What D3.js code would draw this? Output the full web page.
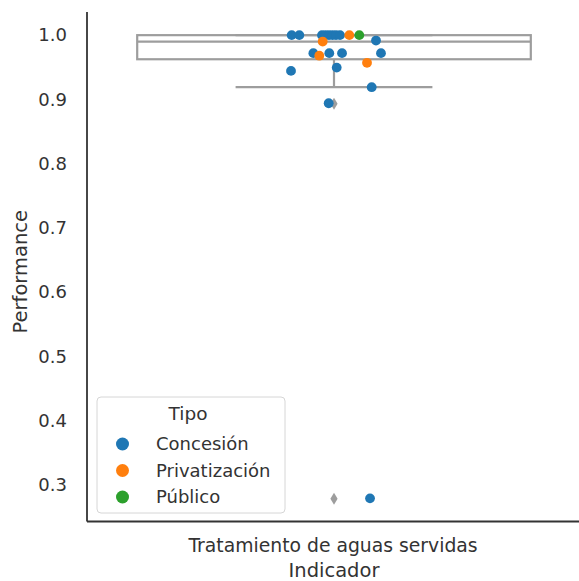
<!DOCTYPE html>
<html>
<head>
<meta charset="utf-8">
<script src="https://cdn.jsdelivr.net/npm/d3@7.9.0/dist/d3.min.js"></script>
<style>
  body { margin: 0; background: #fff; }
  svg text { font-family: "DejaVu Sans", sans-serif; fill: #333; }
</style>
</head>
<body>
<svg id="chart" width="579" height="581"></svg>
<script>
// data
const indicadores = ["Tratamiento de aguas servidas"];
const tipos = ["Concesión", "Privatización", "Público"];
const colores = ["#1f77b4", "#ff7f0e", "#2ca02c"];
const yTicks = [0.3, 0.4, 0.5, 0.6, 0.7, 0.8, 0.9, 1.0];

// one entry per company: tipo, performance, horizontal jitter (fraction of category width)
const tipoPunto = [
  "Concesión", "Concesión", "Concesión", "Concesión", "Concesión", "Concesión",
  "Concesión", "Concesión", "Privatización", "Público", "Concesión", "Privatización",
  "Concesión", "Concesión", "Concesión", "Concesión", "Privatización", "Privatización",
  "Concesión", "Concesión", "Concesión", "Concesión", "Concesión"
];
const performance = [
  1.0, 1.0, 1.0, 1.0, 1.0, 1.0,
  1.0, 1.0, 1.0, 1.0, 0.9916, 0.990,
  0.972, 0.972, 0.972, 0.972, 0.968, 0.957,
  0.9495, 0.9444, 0.919, 0.894, 0.279
];
const jitter = [
  -0.086, -0.0705, -0.0244, -0.0173, -0.0102, -0.003,
  0.0041, 0.0122, 0.0311, 0.0514, 0.0854, -0.023,
  -0.042, -0.0096, 0.0163, 0.0955, -0.0299, 0.0671,
  0.0055, -0.0874, 0.0766, -0.0108, 0.0732
];

const svg = d3.select("#chart");
const mLeft = 87, mRight = 579, mTop = 12, mBottom = 521.5;

const x = d3.scaleBand().domain(indicadores).range([mLeft, mRight]).padding(0);
const ext = d3.extent(performance);
const pad = (ext[1] - ext[0]) * 0.05;
const y = d3.scaleLinear().domain([ext[0] - pad, ext[1] + pad]).range([mBottom, mTop]);

// box statistics (same as matplotlib: linear percentiles, 1.5 IQR whiskers)
const sorted = performance.slice().sort(d3.ascending);
const q1 = d3.quantileSorted(sorted, 0.25);
const med = d3.quantileSorted(sorted, 0.5);
const q3 = d3.quantileSorted(sorted, 0.75);
const iqr = q3 - q1;
const lowW = d3.min(sorted.filter(v => v >= q1 - 1.5 * iqr));
const highW = d3.max(sorted.filter(v => v <= q3 + 1.5 * iqr));
const fliers = sorted.filter(v => v < lowW || v > highW);

const bw = x.bandwidth();
const xc = x(indicadores[0]) + bw / 2 + 1;
const boxW = bw * 0.8;
const boxColor = "#9d9d9d";

const box = svg.append("g").attr("stroke", boxColor).attr("stroke-width", 2.2).attr("fill", "none");
box.append("rect")
  .attr("x", xc - boxW / 2).attr("y", y(q3))
  .attr("width", boxW).attr("height", y(q1) - y(q3))
  .attr("fill", "white");
box.append("line").attr("x1", xc - boxW / 2).attr("x2", xc + boxW / 2)
  .attr("y1", y(med)).attr("y2", y(med));
box.append("line").attr("x1", xc).attr("x2", xc).attr("y1", y(q1)).attr("y2", y(lowW));
box.append("line").attr("x1", xc).attr("x2", xc).attr("y1", y(q3)).attr("y2", y(highW));
[lowW, highW].forEach(v => {
  box.append("line").attr("x1", xc - boxW / 4).attr("x2", xc + boxW / 4)
    .attr("y1", y(v)).attr("y2", y(v));
});
// fliers as thin diamonds
svg.append("g").selectAll("path").data(fliers).join("path")
  .attr("d", v => `M${xc},${y(v) - 5.5}L${xc + 3.6},${y(v) + 0.5}L${xc},${y(v) + 6.5}L${xc - 3.6},${y(v) + 0.5}Z`)
  .attr("fill", boxColor);

// strip points
const color = d3.scaleOrdinal().domain(tipos).range(colores);
svg.append("g").selectAll("circle").data(performance).join("circle")
  .attr("cx", (v, i) => xc + jitter[i] * bw)
  .attr("cy", v => y(v))
  .attr("r", 4.9)
  .attr("fill", (v, i) => color(tipoPunto[i]));

// y axis
const yAxis = svg.append("g").attr("transform", `translate(${mLeft},0)`)
  .call(d3.axisLeft(y).tickValues(yTicks).tickFormat(d3.format(".1f")).tickSize(0).tickPadding(20));
yAxis.select(".domain").remove();
yAxis.selectAll("text").attr("font-size", 18).style("font-family", "DejaVu Sans").attr("fill", "#333");

// x axis
const xAxis = svg.append("g").attr("transform", `translate(0,${mBottom})`)
  .call(d3.axisBottom(x).tickSize(0).tickPadding(17));
xAxis.select(".domain").remove();
xAxis.selectAll("text").attr("font-size", 18.8).style("font-family", "DejaVu Sans").attr("fill", "#333");

// spines
svg.append("line").attr("x1", mLeft).attr("x2", mLeft).attr("y1", mTop).attr("y2", mBottom)
  .attr("stroke", "#333").attr("stroke-width", 1.8);
svg.append("line").attr("x1", mLeft).attr("x2", mRight).attr("y1", mBottom).attr("y2", mBottom)
  .attr("stroke", "#333").attr("stroke-width", 1.8);

// axis labels
svg.append("text").attr("x", xc).attr("y", 577).attr("text-anchor", "middle")
  .attr("font-size", 19.5).text("Indicador");
svg.append("text").attr("transform", `translate(27,${(mTop + mBottom) / 2 + 5}) rotate(-90)`)
  .attr("text-anchor", "middle").attr("font-size", 19.5).text("Performance");

// legend
const lg = svg.append("g").attr("transform", "translate(97,397)");
lg.append("rect").attr("width", 188).attr("height", 116).attr("rx", 4)
  .attr("fill", "white").attr("fill-opacity", 0.85).attr("stroke", "#d6d6d6");
lg.append("text").attr("x", 91).attr("y", 23).attr("text-anchor", "middle")
  .attr("font-size", 18.5).text("Tipo");
tipos.forEach((t, i) => {
  const row = lg.append("g").attr("transform", `translate(0,${47 + i * 26.5})`);
  row.append("circle").attr("cx", 25.5).attr("cy", 0).attr("r", 6.5).attr("fill", colores[i]);
  row.append("text").attr("x", 59).attr("y", 6).attr("font-size", 18).text(t);
});
</script>
</body>
</html>
